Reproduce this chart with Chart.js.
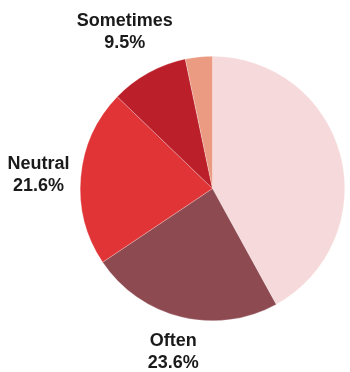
<!DOCTYPE html>
<html>
<head>
<meta charset="utf-8">
<script src="https://cdn.jsdelivr.net/npm/chart.js@4/dist/chart.umd.min.js"></script>
<style>
    html, body { margin: 0; padding: 0; background: #fff; }
    #wrap { width: 350px; height: 372px; }
</style>
</head>
<body>
<div id="wrap"><canvas id="pieChart"></canvas></div>
<script>
// Survey answers, clockwise from 12 o'clock
const categories = ['Always', 'Often', 'Neutral', 'Sometimes', 'Never'];
const shares = [42.0, 23.6, 21.6, 9.5, 3.3];
const sliceColors = ['#f6dadb', '#8d4a51', '#e03437', '#bb1f29', '#eb9b81'];
// only these slices get an outside label
const labelled = [false, true, true, true, false];

// Draws "name / value%" outside each labelled slice
const outsideLabels = {
    id: 'outsideLabels',
    afterDatasetsDraw(chart) {
        const ctx = chart.ctx;
        const meta = chart.getDatasetMeta(0);
        ctx.save();
        ctx.font = 'bold 18px "Liberation Sans", Arial, sans-serif';
        ctx.fillStyle = '#1a1a1a';
        ctx.textAlign = 'center';
        ctx.textBaseline = 'middle';
        meta.data.forEach((arc, i) => {
            if (!labelled[i]) return;
            const mid = (arc.startAngle + arc.endAngle) / 2;
            const dx = Math.cos(mid), dy = Math.sin(mid);
            const name = chart.data.labels[i];
            const text = shares[i].toFixed(1) + '%';
            const hw = Math.max(ctx.measureText(name).width, ctx.measureText(text).width) / 2;
            const hh = 18;
            const dist = arc.outerRadius + 10 + Math.abs(dx) * hw + Math.abs(dy) * hh;
            const cx = arc.x + dx * dist;
            const cy = arc.y + dy * dist + 2;
            ctx.fillText(name, cx, cy - 11);
            ctx.fillText(text, cx, cy + 11);
        });
        ctx.restore();
    }
};

new Chart(document.getElementById('pieChart'), {
    type: 'pie',
    data: {
        labels: categories,
        datasets: [{
            data: shares,
            backgroundColor: sliceColors,
            borderColor: 'rgba(255,255,255,0.5)',
            borderWidth: 0.5
        }]
    },
    options: {
        responsive: true,
        maintainAspectRatio: false,
        animation: false,
        layout: { padding: { left: 80, right: 5, top: 56, bottom: 51 } },
        plugins: {
            legend: { display: false },
            tooltip: { enabled: false }
        }
    },
    plugins: [outsideLabels]
});
</script>
</body>
</html>
